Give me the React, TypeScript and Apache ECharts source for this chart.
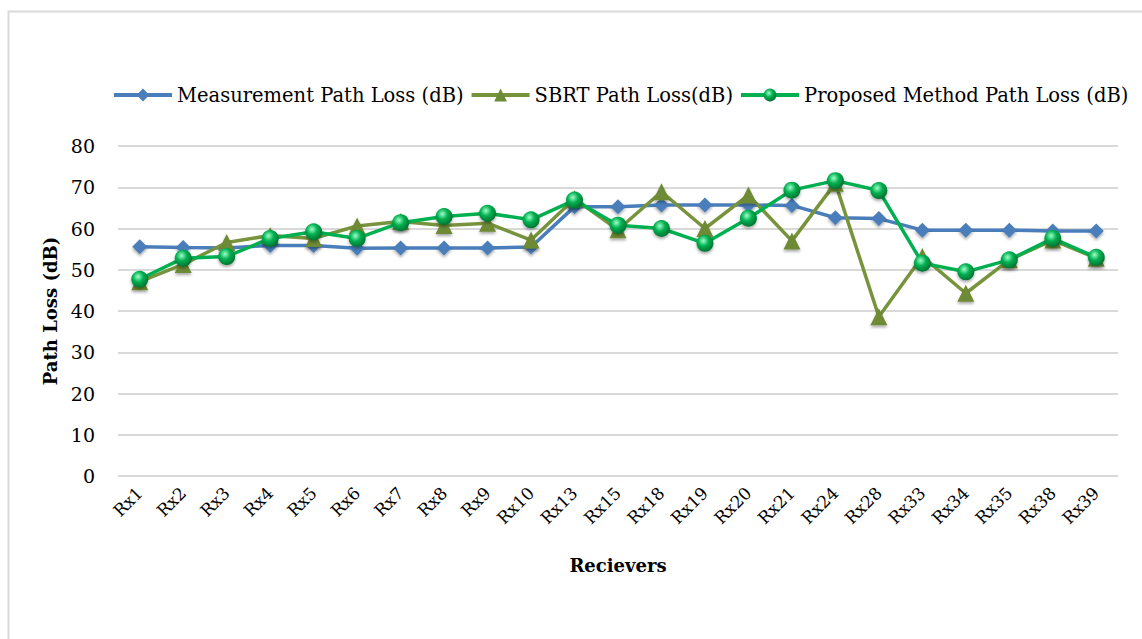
import React, { useEffect, useRef } from "react";
import * as echarts from "echarts";

const categories = ["Rx1","Rx2","Rx3","Rx4","Rx5","Rx6","Rx7","Rx8","Rx9","Rx10","Rx13","Rx15","Rx18","Rx19","Rx20","Rx21","Rx24","Rx28","Rx33","Rx34","Rx35","Rx38","Rx39"];
const measurement = [55.6,55.4,55.3,55.9,55.9,55.2,55.3,55.3,55.3,55.5,65.3,65.3,65.7,65.7,65.7,65.6,62.6,62.4,59.6,59.6,59.6,59.4,59.4];
const sbrt = [47.1,51.3,56.6,58.3,57.6,60.6,61.7,60.7,61.3,57.2,67.2,59.7,68.9,60.0,68.1,57.0,71.0,38.6,53.2,44.3,52.4,57.2,52.8];
const proposed = [47.7,52.8,53.2,57.6,59.2,57.6,61.4,62.9,63.7,62.1,66.9,60.8,60.0,56.4,62.5,69.3,71.6,69.2,51.6,49.5,52.4,57.6,53.0];
const yTicks = { min: 0, max: 80, interval: 10 };

const FONT = "DejaVu Serif";

export default function App() {
  const ref = useRef<HTMLDivElement>(null);
  useEffect(() => {
    if (!ref.current) return;
    const chart = echarts.init(ref.current, undefined, { renderer: "svg" });
    const greenBall = new echarts.graphic.RadialGradient(0.4, 0.35, 0.7, [
      { offset: 0, color: "#9dffc8" },
      { offset: 0.45, color: "#00b050" },
      { offset: 1, color: "#006b2e" },
    ]);
    chart.setOption({
      animation: false,
      backgroundColor: "#ffffff",
      graphic: [
        {
          type: "rect",
          shape: { x: 8.5, y: 11.5, width: 1200, height: 700 },
          style: { fill: "none", stroke: "#d9d9d9", lineWidth: 2 },
          silent: true,
        },
      ],
      legend: {
        top: 85,
        left: 112,
        width: 1030,
        padding: 0,
        itemWidth: 58,
        itemHeight: 16,
        itemGap: 6,
        lineStyle: { width: 4 },
        textStyle: { fontFamily: FONT, fontSize: 19.5, color: "#000" },
        data: [
          "Measurement Path Loss (dB)",
          "SBRT Path Loss(dB)",
          "Proposed Method Path Loss (dB)",
        ],
      },
      grid: { left: 118, right: 24, top: 146, bottom: 163, containLabel: false },
      xAxis: {
        type: "category",
        data: categories,
        boundaryGap: true,
        axisLine: { show: false },
        axisTick: { show: false },
        axisLabel: {
          rotate: 45,
          margin: 14,
          interval: 0,
          fontFamily: FONT,
          fontSize: 17,
          color: "#000",
        },
        name: "Recievers",
        nameLocation: "middle",
        nameGap: 80,
        nameTextStyle: { fontFamily: FONT, fontSize: 18, fontWeight: "bold", color: "#000" },
      },
      yAxis: {
        type: "value",
        min: yTicks.min,
        max: yTicks.max,
        interval: yTicks.interval,
        axisLine: { show: false },
        axisTick: { show: false },
        splitLine: { lineStyle: { color: "#d9d9d9", width: 2 } },
        axisLabel: { fontFamily: FONT, fontSize: 19, color: "#000", margin: 23 },
        name: "Path Loss (dB)",
        nameLocation: "middle",
        nameGap: 57,
        nameTextStyle: { fontFamily: FONT, fontSize: 18, fontWeight: "bold", color: "#000" },
      },
      series: [
        {
          name: "Measurement Path Loss (dB)",
          type: "line",
          data: measurement,
          symbol: "diamond",
          symbolSize: 15,
          lineStyle: { color: "#4a7ebb", width: 3.5 },
          itemStyle: { color: "#4a7ebb", shadowBlur: 3, shadowColor: "rgba(0,0,0,0.35)", shadowOffsetY: 2 },
          z: 2,
        },
        {
          name: "SBRT Path Loss(dB)",
          type: "line",
          data: sbrt,
          symbol: "triangle",
          symbolSize: 17,
          lineStyle: { color: "#77933c", width: 3.5 },
          itemStyle: { color: "#6e8a34", shadowBlur: 3, shadowColor: "rgba(0,0,0,0.35)", shadowOffsetY: 2 },
          z: 3,
        },
        {
          name: "Proposed Method Path Loss (dB)",
          type: "line",
          data: proposed,
          symbol: "circle",
          symbolSize: 17,
          lineStyle: { color: "#00b050", width: 3.5 },
          itemStyle: { color: greenBall, shadowBlur: 3, shadowColor: "rgba(0,0,0,0.35)", shadowOffsetY: 2 },
          z: 4,
        },
      ],
    });
    return () => chart.dispose();
  }, []);
  return (
    <div
      ref={ref}
      style={{ position: "absolute", left: 0, top: 0, width: 1142, height: 639 }}
    />
  );
}
